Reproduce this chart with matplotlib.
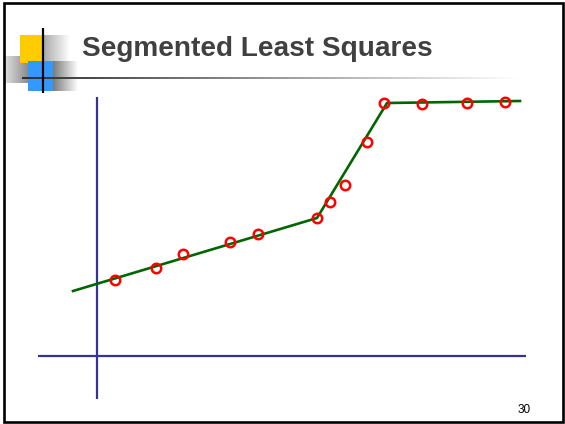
import numpy as np
import matplotlib
matplotlib.use("Agg")
import matplotlib.pyplot as plt
from matplotlib.patches import Rectangle
from matplotlib.colors import LinearSegmentedColormap

# Observed points (x, y) measured from the axes origin
pts_x = [18, 59, 86, 133, 161, 220, 233, 248, 270, 287, 325, 370, 408]
pts_y = [76, 88, 102, 114, 122, 138, 154, 171, 214, 253, 252, 253, 254]

# Piecewise-linear fit: breakpoints of the three segments
fit_x = [-24, 220, 290, 423]
fit_y = [65, 138, 253, 255]

# Extent of the drawn coordinate axes
xaxis_span = [-59, 429]
yaxis_span = [-43, 259]

title_text = "Segmented Least Squares"
page_label = "30"

W, H = 565, 424
fig = plt.figure(figsize=(W / 100, H / 100), dpi=100)
fig.patch.set_facecolor("white")

# ---- slide decoration layer (pixel coordinates, y downwards) ----
deco = fig.add_axes([0, 0, 1, 1])
deco.set_xlim(0, W)
deco.set_ylim(H, 0)
deco.axis("off")


def hgrad(ax, x0, x1, y0, y1, c_left, c_right, z=1):
    cmap = LinearSegmentedColormap.from_list("g", [c_left, c_right])
    g = np.linspace(0, 1, 256).reshape(1, -1)
    ax.imshow(g, cmap=cmap, extent=(x0, x1, y1, y0), aspect="auto",
              interpolation="bilinear", zorder=z)


# gray shadows of the logo
hgrad(deco, 3, 28, 56, 83, "#e6e6e6", "#8c8c8c", z=1)
hgrad(deco, 43, 70, 35, 63, "#a8a8a8", "#ffffff", z=1)
hgrad(deco, 53, 78, 61, 91, "#7a7a7a", "#ffffff", z=1)
# coloured squares
deco.add_patch(Rectangle((20, 35), 23, 28, facecolor="#ffcc00", edgecolor="none", zorder=2))
deco.add_patch(Rectangle((28, 61), 25, 30, facecolor="#3399ff", edgecolor="none", zorder=3))
# title rule fading to the right
hgrad(deco, 22, 520, 76.8, 78.8, "#303030", "#ffffff", z=4)
# vertical bar of the logo
deco.plot([43, 43], [28, 93], color="black", lw=1.6, solid_capstyle="butt", zorder=5)

deco.text(82, 49, title_text, fontsize=20.2, fontweight="bold", color="#404040",
          family="Liberation Sans", ha="left", va="center", zorder=6)
deco.text(524, 410, page_label, fontsize=8.5, color="black",
          family="Liberation Sans", ha="center", va="center", zorder=6)

# slide frame
deco.add_patch(Rectangle((4, 2.5), 559, 419, facecolor="none", edgecolor="black",
                         lw=1.9, zorder=7))

# ---- chart layer: one data unit per pixel, origin at the axes crossing ----
ax = fig.add_axes([0, 0, 1, 1])
ax.set_xlim(-97, W - 97)
ax.set_ylim(356 - H, 356)
ax.axis("off")
ax.patch.set_alpha(0)

axis_col = "#333399"
ax.plot(xaxis_span, [0, 0], color=axis_col, lw=1.6, solid_capstyle="butt")
ax.plot([0, 0], yaxis_span, color=axis_col, lw=1.6, solid_capstyle="butt")

ax.plot(fit_x, fit_y, color="#006600", lw=1.9, zorder=3)
ax.plot(pts_x, pts_y, linestyle="none", marker="o", markersize=6.8,
        markerfacecolor="none", markeredgecolor="#ff0000", markeredgewidth=1.8, zorder=4)

fig.savefig("out.png", dpi=100)
